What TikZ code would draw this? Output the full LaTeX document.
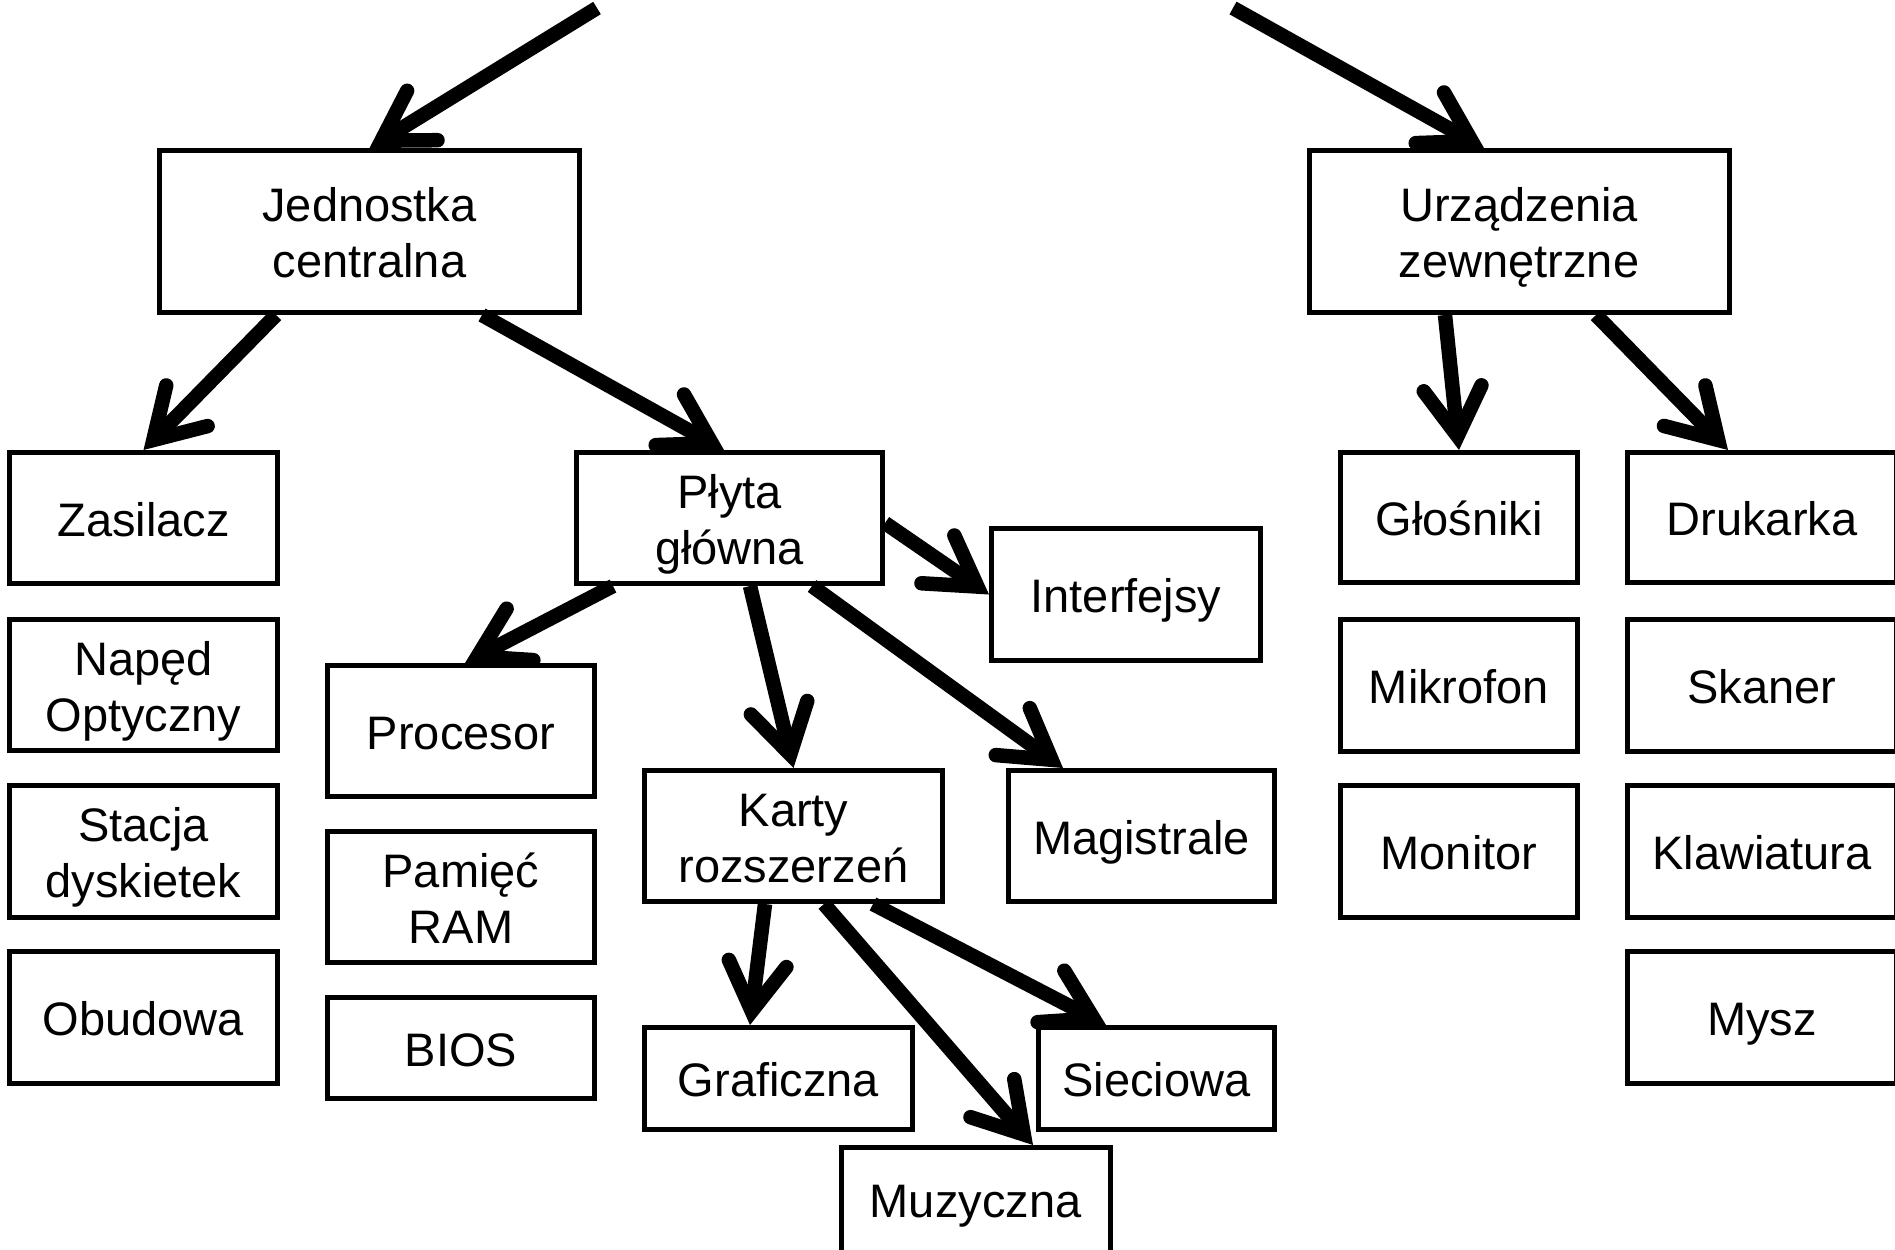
\documentclass[tikz,border=0pt]{standalone}
\usepackage{fontspec}
\setmainfont{Liberation Sans}
\usetikzlibrary{arrows.meta}
% one text line of fixed height and depth, so every label sits alike;
% a larger depth (optional argument) lifts the line inside its box
\newcommand{\cell}[2][3.2pt]{\smash{#2}\rule[-#1]{0pt}{24.8pt}}
\begin{document}
\begin{tikzpicture}[x=0.5pt,y=-0.5pt,
  box/.style={draw, line width=2.5pt, align=center, inner sep=0pt,
    font=\fontsize{23.5pt}{28pt}\selectfont},
  sz/.style 2 args={minimum width=#1pt, minimum height=#2pt},
  link/.style={line width=7.25pt, line cap=butt,
    -{Straight Barb[length=24pt,width=29pt,line cap=round,line join=miter]}},
]
\clip (0,0) rectangle (1895,1249);

% top level
\node[box, sz={210}{81}] (jc) at (369.5,231.5) {\cell{Jednostka}\\\cell{centralna}};
\node[box, sz={210}{81}] (uz) at (1519,231.5) {\cell{Urządzenia}\\\cell{zewnętrzne}};

% central unit: left column
\node[box, sz={134}{65.5}] (zas)    at (143.5,518)    {\cell{Zasilacz}};
\node[box, sz={134}{65.5}] (naped)  at (143.5,685)    {\cell{Napęd}\\\cell{Optyczny}};
\node[box, sz={134}{66}]   (stacja) at (143.5,851.5)  {\cell{Stacja}\\\cell{dyskietek}};
\node[box, sz={134}{66}]   (obud)   at (143.5,1017.5) {\cell{Obudowa}};

% motherboard and its parts
\node[box, sz={153}{65.5}]   (plyta) at (729.5,518)  {\cell{Płyta}\\\cell{główna}};
\node[box, sz={134.5}{66}]   (inter) at (1126,594.5) {\cell{Interfejsy}};
\node[box, sz={133.5}{65.5}] (proc)  at (461,731)    {\cell{Procesor}};
\node[box, sz={133.5}{65.5}] (ram)   at (461,897)    {\cell{Pamięć}\\\cell{RAM}};
\node[box, sz={133.5}{50.5}] (bios)  at (461,1048)   {\cell{BIOS}};
\node[box, sz={149}{65.5}]   (karty) at (793.5,836)  {\cell{Karty}\\\cell{rozszerzeń}};
\node[box, sz={133}{65.5}]   (magis) at (1141.5,836) {\cell{Magistrale}};

% expansion cards
\node[box, sz={134}{51}]     (graf) at (778.5,1078.5) {\cell{Graficzna}};
\node[box, sz={118}{51}]     (siec) at (1156.5,1078.5) {\cell{Sieciowa}};
\node[box, sz={134.5}{65.5}] (muz)  at (975.5,1213)   {\cell[10.2pt]{Muzyczna}};

% peripherals
\node[box, sz={118.5}{65}] (glos)  at (1459,517.5)  {\cell{Głośniki}};
\node[box, sz={118.5}{66}] (mikro) at (1459,685)    {\cell{Mikrofon}};
\node[box, sz={118.5}{66}] (monit) at (1459,851.5)  {\cell{Monitor}};
\node[box, sz={134.5}{65}] (druk)  at (1762,517.5)  {\cell{Drukarka}};
\node[box, sz={134.5}{66}] (skan)  at (1762,685)    {\cell{Skaner}};
\node[box, sz={134.5}{66}] (klaw)  at (1762,851.5)  {\cell{Klawiatura}};
\node[box, sz={134.5}{66}] (mysz)  at (1762,1017.5) {\cell{Mysz}};

% incoming arrows from above
\coordinate (in1) at (597,8);
\coordinate (in2) at (1233,8);

\draw[link] (in1) -- (jc.north);
\draw[link] (in2) -- ([xshift=-17.5pt]uz.north);
\draw[link] ([xshift=-46.75pt]jc.south) -- (zas.north);
\draw[link] ([xshift=56.25pt]jc.south) -- ([xshift=-2.75pt]plyta.north);
\draw[link] ([xshift=-37pt]uz.south) -- (glos.north);
\draw[link] ([xshift=38.5pt]uz.south) -- ([xshift=-17pt]druk.north);
\draw[link] ([yshift=-2.5pt]plyta.east) -- (inter.west);
\draw[link] ([xshift=-58.25pt]plyta.south) -- ([xshift=2pt]proc.north);
\draw[link] ([xshift=10.25pt]plyta.south) -- (karty.north);
\draw[link] ([xshift=41.25pt]plyta.south) -- ([xshift=-39.25pt]magis.north);
\draw[link] ([xshift=-14.25pt]karty.south) -- ([xshift=-14.25pt]graf.north);
\draw[link] ([xshift=15.25pt]karty.south) -- ([xshift=28.75pt]muz.north);
\draw[link] ([xshift=39.75pt]karty.south) -- ([xshift=-25.25pt]siec.north);
\end{tikzpicture}
\end{document}
